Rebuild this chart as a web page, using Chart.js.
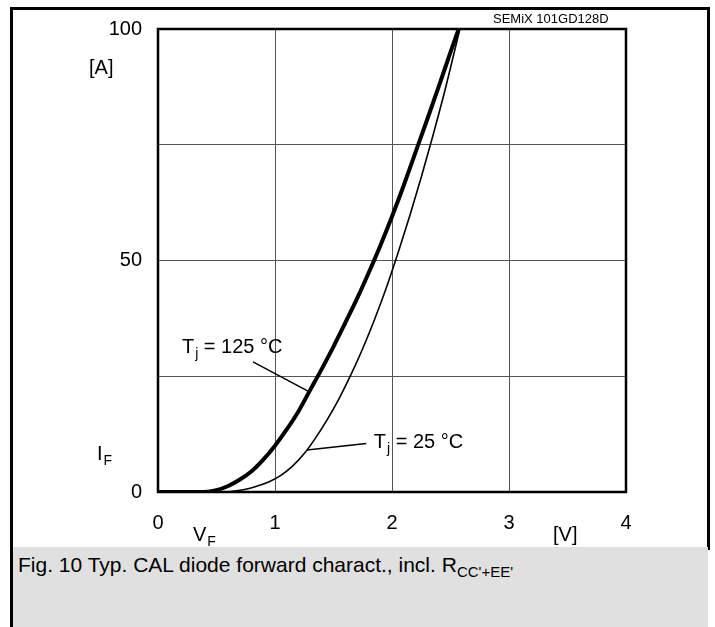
<!DOCTYPE html>
<html>
<head>
<meta charset="utf-8">
<script src="https://cdn.jsdelivr.net/npm/chart.js@4.4.1/dist/chart.umd.min.js"></script>
<style>
  body { margin: 0; background: #fff; }
  #wrap { position: relative; width: 715px; height: 627px; overflow: hidden; font-family: 'Liberation Sans', Arial, sans-serif; }
  #marco { position: absolute; left: 10px; top: 7px; width: 694px; height: 540px; border: 3px solid #000; border-bottom: none; }
  #grafico { position: absolute; left: 0; top: 0; }
  #titulo { position: absolute; left: 493px; top: 11px; font-size: 13px; line-height: 15px; color: #000; }
  #pie { position: absolute; left: 10px; top: 547px; width: 695px; height: 80px; border-left: 3px solid #000; background: #e0e0e0; }
  #pie span.txt { position: absolute; left: 5px; top: 6px; font-size: 21px; line-height: 24px; color: #000; white-space: nowrap; }
  #pie sub { font-size: 15px; vertical-align: -5px; line-height: 0; }
</style>
</head>
<body>
<div id="wrap">
  <div id="marco"></div>
  <canvas id="grafico" width="715" height="627"></canvas>
  <div id="titulo">SEMiX 101GD128D</div>
  <div id="pie"><span class="txt">Fig. 10 Typ. CAL diode forward charact., incl. R<sub>CC'+EE'</sub></span></div>
</div>
<script>
// ==================== DATOS ====================

// Tj = 125 °C (curva gruesa)
const vf125 = [0, 0.40, 0.50, 0.60, 0.70, 0.80, 0.90, 1.00, 1.10, 1.20, 1.30, 1.40, 1.50, 1.60, 1.70, 1.80, 1.90, 2.00, 2.10, 2.20, 2.30, 2.40, 2.50, 2.57];
const if125 = [0, 0, 0.4, 1.3, 2.7, 4.5, 7.0, 10.0, 13.5, 17.4, 22.0, 26.6, 31.4, 36.5, 41.7, 47.3, 53.2, 59.5, 66.2, 73.3, 80.4, 87.6, 95.0, 100];

// Tj = 25 °C (curva fina)
const vf25 = [0, 0.55, 0.65, 0.75, 0.85, 0.95, 1.05, 1.15, 1.25, 1.35, 1.45, 1.55, 1.65, 1.75, 1.85, 1.95, 2.05, 2.15, 2.25, 2.35, 2.45, 2.58];
const if25 = [0, 0, 0.2, 0.6, 1.3, 2.2, 3.6, 5.6, 8.3, 11.8, 15.8, 20.3, 25.4, 31.0, 37.2, 44.0, 51.5, 59.5, 68.0, 77.0, 86.5, 100];

// Ejes
const ticksX = [0, 1, 2, 3, 4];
const ticksYConEtiqueta = [0, 50, 100];

// Etiquetas de las curvas (en unidades de datos)
const etiqueta125 = { texto: ' = 125 °C', x: 0.205, y: 30.0, linea: [0.812, 28.1, 1.282, 21.8] };
const etiqueta25 = { texto: ' = 25 °C', x: 1.845, y: 9.6, linea: [1.274, 9.07, 1.78, 10.5] };

const FUENTE = "'Liberation Sans', Arial, sans-serif";

// ==================== UTILIDADES ====================

function juntarPuntos(xs, ys) {
  return xs.map((x, i) => ({ x: x, y: ys[i] }));
}

function textoConSubindice(ctx, base, sub, x, y) {
  ctx.font = '20px ' + FUENTE;
  ctx.fillText(base, x, y);
  const w = ctx.measureText(base).width;
  ctx.font = '14px ' + FUENTE;
  ctx.fillText(sub, x + w + 1, y + 5);
  return x + w + 1 + ctx.measureText(sub).width;
}

// ==================== PLUGIN DE DECORACION ====================

const pluginDecoracion = {
  id: 'decoracion',
  afterDraw(chart) {
    const { ctx, chartArea, scales } = chart;
    const sx = scales.x;
    const sy = scales.y;

    ctx.save();
    // Marco del area de trazado
    ctx.strokeStyle = '#000';
    ctx.lineWidth = 2.5;
    ctx.strokeRect(chartArea.left, chartArea.top, chartArea.right - chartArea.left, chartArea.bottom - chartArea.top);

    ctx.fillStyle = '#000';
    ctx.textBaseline = 'alphabetic';
    ctx.textAlign = 'left';

    // Unidades y nombres de ejes
    ctx.font = '20px ' + FUENTE;
    ctx.fillText('[A]', 89, 74);
    ctx.fillText('[V]', 553, 541);
    textoConSubindice(ctx, 'I', 'F', 97, 460);
    textoConSubindice(ctx, 'V', 'F', 193, 541);

    // Etiquetas de curvas con linea guia
    [etiqueta125, etiqueta25].forEach(et => {
      const px = sx.getPixelForValue(et.x);
      const py = sy.getPixelForValue(et.y);
      const fin = textoConSubindice(ctx, 'T', 'j', px, py);
      ctx.font = '20px ' + FUENTE;
      ctx.fillText(et.texto, fin, py);

      ctx.beginPath();
      ctx.lineWidth = 1.5;
      ctx.moveTo(sx.getPixelForValue(et.linea[0]), sy.getPixelForValue(et.linea[1]));
      ctx.lineTo(sx.getPixelForValue(et.linea[2]), sy.getPixelForValue(et.linea[3]));
      ctx.stroke();
    });
    ctx.restore();
  }
};

// ==================== GRAFICO ====================

function crearGrafico() {
  const ctx = document.getElementById('grafico').getContext('2d');

  new Chart(ctx, {
    type: 'scatter',
    data: {
      datasets: [
        {
          label: 'Tj = 125 °C',
          data: juntarPuntos(vf125, if125),
          showLine: true,
          borderColor: '#000',
          borderWidth: 4,
          pointRadius: 0,
          cubicInterpolationMode: 'monotone'
        },
        {
          label: 'Tj = 25 °C',
          data: juntarPuntos(vf25, if25),
          showLine: true,
          borderColor: '#000',
          borderWidth: 1.6,
          pointRadius: 0,
          cubicInterpolationMode: 'monotone'
        }
      ]
    },
    options: {
      responsive: false,
      animation: false,
      layout: { padding: { left: 0, top: 29, right: 89, bottom: 0 } },
      plugins: {
        legend: { display: false },
        tooltip: { enabled: false }
      },
      scales: {
        x: {
          type: 'linear',
          min: 0,
          max: 4,
          afterFit: scale => { scale.height = 135; },
          afterBuildTicks: scale => { scale.ticks = ticksX.map(v => ({ value: v })); },
          grid: { color: '#555', lineWidth: 1, drawTicks: false },
          border: { display: false },
          ticks: {
            color: '#000',
            font: { family: FUENTE, size: 20 },
            padding: 19,
            maxRotation: 0,
            callback: v => String(v)
          }
        },
        y: {
          type: 'linear',
          min: 0,
          max: 100,
          afterFit: scale => { scale.width = 158; },
          grid: { color: '#555', lineWidth: 1, drawTicks: false },
          border: { display: false },
          ticks: {
            stepSize: 25,
            color: '#000',
            font: { family: FUENTE, size: 20 },
            padding: 16,
            callback: v => ticksYConEtiqueta.includes(v) ? String(v) : ''
          }
        }
      }
    },
    plugins: [pluginDecoracion]
  });
}

crearGrafico();
</script>
</body>
</html>
